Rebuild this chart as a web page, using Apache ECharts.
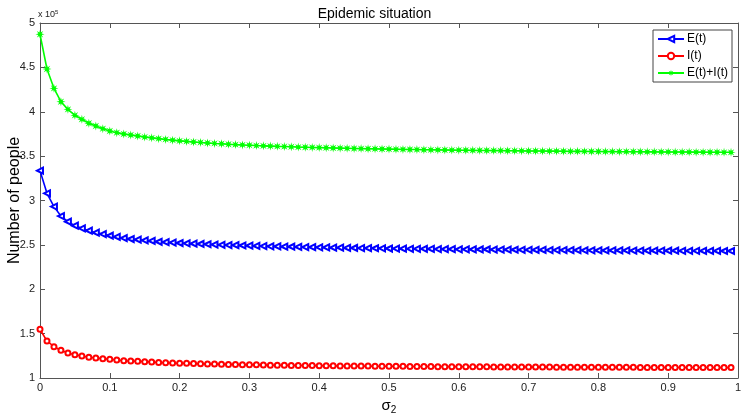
<!DOCTYPE html>
<html>
<head>
<meta charset="utf-8">
<title>Epidemic situation</title>
<script src="https://cdn.jsdelivr.net/npm/echarts@6/dist/echarts.min.js"></script>
<style>
  html, body { margin: 0; padding: 0; background: #fff; }
  #chart { width: 749px; height: 417px; }
</style>
</head>
<body>
<div id="chart"></div>
<script>
// sigma_2 values (x axis)
var sigma = [
  0.00, 0.01, 0.02, 0.03, 0.04, 0.05, 0.06, 0.07, 0.08, 0.09,
  0.10, 0.11, 0.12, 0.13, 0.14, 0.15, 0.16, 0.17, 0.18, 0.19,
  0.20, 0.21, 0.22, 0.23, 0.24, 0.25, 0.26, 0.27, 0.28, 0.29,
  0.30, 0.31, 0.32, 0.33, 0.34, 0.35, 0.36, 0.37, 0.38, 0.39,
  0.40, 0.41, 0.42, 0.43, 0.44, 0.45, 0.46, 0.47, 0.48, 0.49,
  0.50, 0.51, 0.52, 0.53, 0.54, 0.55, 0.56, 0.57, 0.58, 0.59,
  0.60, 0.61, 0.62, 0.63, 0.64, 0.65, 0.66, 0.67, 0.68, 0.69,
  0.70, 0.71, 0.72, 0.73, 0.74, 0.75, 0.76, 0.77, 0.78, 0.79,
  0.80, 0.81, 0.82, 0.83, 0.84, 0.85, 0.86, 0.87, 0.88, 0.89,
  0.90, 0.91, 0.92, 0.93, 0.94, 0.95, 0.96, 0.97, 0.98, 0.99
]

// values in units of 10^5 people
var exposed = [
  3.336, 3.081, 2.931, 2.825, 2.761, 2.716, 2.686, 2.660, 2.637, 2.622,
  2.603, 2.589, 2.577, 2.566, 2.558, 2.551, 2.544, 2.535, 2.530, 2.526,
  2.521, 2.517, 2.514, 2.510, 2.507, 2.504, 2.501, 2.498, 2.496, 2.493,
  2.491, 2.488, 2.486, 2.484, 2.482, 2.480, 2.479, 2.477, 2.475, 2.474,
  2.472, 2.471, 2.469, 2.468, 2.466, 2.465, 2.464, 2.463, 2.462, 2.461,
  2.459, 2.458, 2.457, 2.456, 2.456, 2.455, 2.454, 2.453, 2.452, 2.451,
  2.450, 2.450, 2.449, 2.448, 2.448, 2.447, 2.446, 2.446, 2.445, 2.444,
  2.444, 2.443, 2.443, 2.442, 2.441, 2.441, 2.440, 2.440, 2.439, 2.439,
  2.438, 2.438, 2.437, 2.437, 2.437, 2.436, 2.436, 2.435, 2.435, 2.435,
  2.434, 2.434, 2.433, 2.433, 2.433, 2.432, 2.432, 2.432, 2.431, 2.431
]

var infected = [
  1.548, 1.417, 1.353, 1.312, 1.282, 1.263, 1.248, 1.233, 1.225, 1.218,
  1.211, 1.203, 1.195, 1.192, 1.188, 1.184, 1.180, 1.175, 1.172, 1.169,
  1.167, 1.165, 1.162, 1.160, 1.158, 1.157, 1.155, 1.153, 1.152, 1.150,
  1.149, 1.148, 1.147, 1.145, 1.144, 1.143, 1.142, 1.141, 1.140, 1.140,
  1.139, 1.138, 1.137, 1.136, 1.136, 1.135, 1.134, 1.134, 1.133, 1.133,
  1.132, 1.131, 1.131, 1.130, 1.130, 1.129, 1.129, 1.128, 1.128, 1.128,
  1.127, 1.127, 1.126, 1.126, 1.126, 1.125, 1.125, 1.125, 1.124, 1.124,
  1.124, 1.123, 1.123, 1.123, 1.122, 1.122, 1.122, 1.122, 1.121, 1.121,
  1.121, 1.121, 1.120, 1.120, 1.120, 1.120, 1.119, 1.119, 1.119, 1.119,
  1.119, 1.118, 1.118, 1.118, 1.118, 1.118, 1.118, 1.117, 1.117, 1.117
]

var total = [
  4.873, 4.482, 4.264, 4.113, 4.027, 3.960, 3.915, 3.870, 3.839, 3.809,
  3.783, 3.764, 3.749, 3.738, 3.727, 3.715, 3.706, 3.697, 3.688, 3.680,
  3.672, 3.666, 3.659, 3.654, 3.648, 3.643, 3.639, 3.634, 3.630, 3.626,
  3.623, 3.619, 3.616, 3.613, 3.610, 3.608, 3.605, 3.602, 3.600, 3.598,
  3.596, 3.594, 3.592, 3.590, 3.588, 3.586, 3.585, 3.583, 3.582, 3.580,
  3.579, 3.577, 3.576, 3.575, 3.574, 3.572, 3.571, 3.570, 3.569, 3.568,
  3.567, 3.566, 3.565, 3.564, 3.563, 3.562, 3.562, 3.561, 3.560, 3.559,
  3.558, 3.558, 3.557, 3.556, 3.556, 3.555, 3.554, 3.554, 3.553, 3.552,
  3.552, 3.551, 3.551, 3.550, 3.550, 3.549, 3.549, 3.548, 3.548, 3.547,
  3.547, 3.546, 3.546, 3.546, 3.545, 3.545, 3.544, 3.544, 3.543, 3.543
]

var xTicks = { min: 0, max: 1, interval: 0.1 }
var yTicks = { min: 1, max: 5, interval: 0.5 }

function pairs(ys) {
  return sigma.map(function (x, i) { return [x, ys[i]] })
}

var axisGray = '#555'
var font = 'Liberation Sans, Arial, sans-serif'
// MATLAB style '*' marker (plus + cross, chunky arms)
var starPath = 'path://M20 10 L13.7 8.5 L17.07 2.93 L11.5 6.3 L10 0 L8.5 6.3 L2.93 2.93 L6.3 8.5 L0 10 L6.3 11.5 L2.93 17.07 L8.5 13.7 L10 20 L11.5 13.7 L17.07 17.07 L13.7 11.5 Z'

var chart = echarts.init(document.getElementById('chart'))

var boxAxis = {
  axisLine: { show: true, onZero: false, lineStyle: { color: axisGray, width: 1 } },
  axisTick: { show: true, inside: true, length: 5, lineStyle: { color: axisGray } },
  splitLine: { show: false }
}

chart.setOption({
  animation: false,
  backgroundColor: '#fff',
  textStyle: { fontFamily: font },
  title: {
    text: 'Epidemic situation',
    left: 'center',
    top: 2,
    textStyle: { fontSize: 14, fontWeight: 'normal', color: '#000', fontFamily: font }
  },
  grid: {
    left: 40, right: 11, top: 23, bottom: 39,
    containLabel: false,
    outerBoundsMode: 'none'
  },
  legend: {
    orient: 'vertical',
    right: 17,
    top: 30,
    itemWidth: 26,
    itemHeight: 8,
    itemGap: 5,
    padding: [3, 4, 3, 4],
    borderColor: '#444',
    borderWidth: 1,
    borderRadius: 0,
    backgroundColor: '#fff',
    textStyle: { fontSize: 12, color: '#000', fontFamily: font, padding: [0, 0, 0, -2] },
    data: ['E(t)', 'I(t)', 'E(t)+I(t)']
  },
  graphic: [{
    type: 'text',
    left: 38,
    top: 9,
    style: {
      text: 'x 10{s|5}',
      fontSize: 9,
      fill: '#222',
      fontFamily: font,
      rich: { s: { fontSize: 6, verticalAlign: 'top', padding: [0, 0, 6, 0], fill: '#222' } }
    }
  }],
  xAxis: [
    Object.assign({
      type: 'value',
      min: xTicks.min,
      max: xTicks.max,
      interval: xTicks.interval,
      position: 'bottom',
      name: '{a|σ}{b|2}',
      nameLocation: 'middle',
      nameGap: 19,
      nameMoveOverlap: false,
      nameTextStyle: {
        color: '#000',
        rich: {
          a: { fontSize: 15, fontFamily: font, color: '#000' },
          b: { fontSize: 10, fontFamily: font, color: '#000', padding: [8, 0, 0, 0] }
        }
      },
      axisLabel: { color: '#222', fontSize: 11, margin: 4, fontFamily: font }
    }, boxAxis),
    Object.assign({
      type: 'value',
      min: xTicks.min,
      max: xTicks.max,
      interval: xTicks.interval,
      position: 'top',
      axisLabel: { show: false }
    }, boxAxis)
  ],
  yAxis: [
    Object.assign({
      type: 'value',
      min: yTicks.min,
      max: yTicks.max,
      interval: yTicks.interval,
      position: 'left',
      name: 'Number of people',
      nameLocation: 'middle',
      nameGap: 17,
      nameMoveOverlap: false,
      nameTextStyle: { color: '#000', fontSize: 16, fontFamily: font },
      axisLabel: { color: '#222', fontSize: 11, margin: 5, fontFamily: font }
    }, boxAxis),
    Object.assign({
      type: 'value',
      min: yTicks.min,
      max: yTicks.max,
      interval: yTicks.interval,
      position: 'right',
      axisLabel: { show: false }
    }, boxAxis)
  ],
  series: [
    {
      name: 'E(t)',
      type: 'line',
      data: pairs(exposed),
      symbol: 'emptyTriangle',
      symbolRotate: 90,
      symbolSize: 6,
      showAllSymbol: true,
      lineStyle: { color: '#0000ff', width: 1.6 },
      itemStyle: { color: '#0000ff', borderColor: '#0000ff', borderWidth: 1 }
    },
    {
      name: 'I(t)',
      type: 'line',
      data: pairs(infected),
      symbol: 'emptyCircle',
      symbolSize: 5,
      showAllSymbol: true,
      lineStyle: { color: '#ff0000', width: 1.6 },
      itemStyle: { color: '#ff0000', borderColor: '#ff0000', borderWidth: 1 }
    },
    {
      name: 'E(t)+I(t)',
      type: 'line',
      data: pairs(total),
      symbol: starPath,
      symbolSize: 9,
      showAllSymbol: true,
      lineStyle: { color: '#00ff00', width: 1.6 },
      itemStyle: { color: '#00ff00' }
    }
  ]
})
</script>
</body>
</html>
